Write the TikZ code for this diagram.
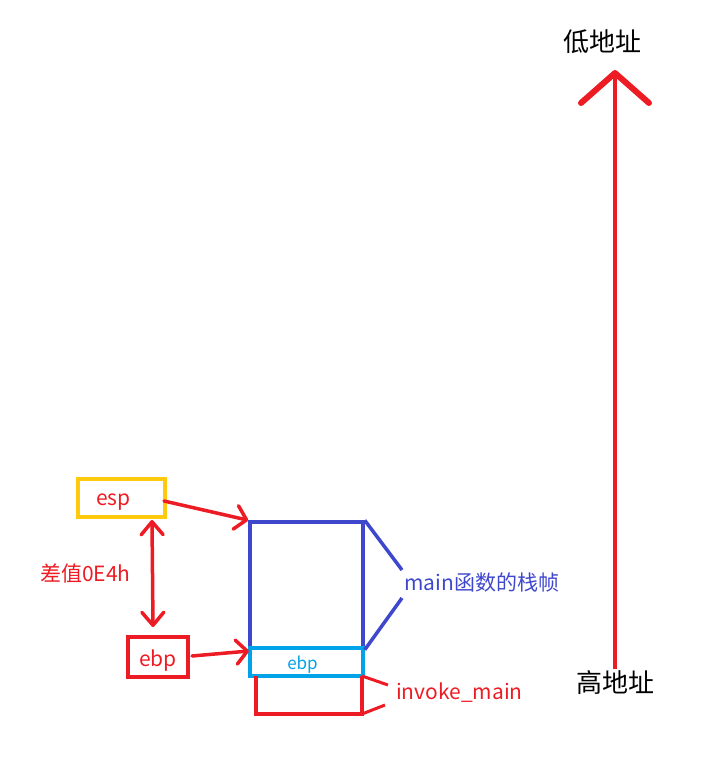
\documentclass[tikz,border=0pt]{standalone}
\usepackage{fontspec}
\setmainfont{Noto Sans CJK SC}
\usetikzlibrary{arrows.meta}
\definecolor{myred}{HTML}{ED1C24}
\definecolor{myyellow}{HTML}{FFC90E}
\definecolor{myblue}{HTML}{3F48CC}
\definecolor{mycyan}{HTML}{00A2E8}
\begin{document}
\begin{tikzpicture}[x=1pt,y=-1pt,
  box/.style={draw, line width=3.5pt, inner sep=0pt},
  lbl/.style={inner sep=0pt, anchor=west},
  chev/.style={-{Straight Barb[round, length=11pt, width=24pt, line width=3.5pt]}, line width=3.5pt, line cap=round, draw=myred},
  dchev/.style={{Straight Barb[round, length=13pt, width=22pt, line width=3.5pt]}-{Straight Barb[round, length=13pt, width=22pt, line width=3.5pt]}, line width=3.5pt, line cap=round, draw=myred},
  bigchev/.style={-{Straight Barb[round, length=30pt, width=68pt, line width=6pt]}, line width=4pt, draw=myred}]
\path[use as bounding box] (0,0) rectangle (726,769);

% left boxes
\node[box, draw=myyellow, minimum width=87pt, minimum height=38pt] (esp) at (121.5,498) {};
\node[inner sep=0pt, text=myred, font=\fontsize{21}{23}\selectfont] (esptxt) at ([xshift=-8pt,yshift=-4pt]esp.center) {esp};
\node[box, draw=myred, minimum width=60pt, minimum height=40pt] (ebpl) at (158,657) {};
\node[inner sep=0pt, text=myred, font=\fontsize{21}{23}\selectfont] (ebpltxt) at ([yshift=-4pt]ebpl.center) {ebp};

% stack frame boxes
\node[box, draw=myblue, minimum width=113pt, minimum height=126pt] (frame) at (306.5,585) {};
\node[box, draw=mycyan, minimum width=113pt, minimum height=28pt] (ebpc) at (306.5,662) {};
\node[inner sep=0pt, text=mycyan, font=\fontsize{17}{19}\selectfont] (ebpctxt) at ([xshift=-4pt,yshift=-3pt]ebpc.center) {ebp};
\coordinate (invtl) at (256,676);
\coordinate (invbl) at (256,714);
\coordinate (invbr) at (362,714);
\coordinate (invtr) at (362,676);
\draw[myred, line width=3.5pt, line join=miter] (invtl) -- (invbl) -- (invbr) -- (invtr);

% arrows from registers
\coordinate (espout) at (164,501);
\coordinate (ebpout) at (192,656);
\coordinate (ebpin) at (249,651);
\draw[chev] (espout) -- (frame.north west);
\draw[chev] (ebpout) -- (ebpin);

% double arrow
\coordinate (dtop) at (152,520);
\coordinate (dbot) at (153,627);
\draw[dchev] (dtop) -- (dbot);
\node[lbl, text=myred, font=\fontsize{21}{23}\selectfont] (diff) at (40,573) {差值0E4h};

% bracket for main frame
\coordinate (mb1) at (402,570);
\coordinate (mb2) at (402,598);
\draw[myblue, line width=3.5pt] (frame.north east) -- (mb1);
\draw[myblue, line width=3.5pt] (frame.south east) -- (mb2);
\node[lbl, text=myblue, font=\fontsize{21}{23}\selectfont] (mainlbl) at (404,583) {main函数的栈帧};

% bracket for invoke_main
\coordinate (ib1) at (388,685);
\coordinate (ib2) at (385,705);
\draw[myred, line width=3pt] (invtr) -- (ib1);
\draw[myred, line width=3pt] (invbr) -- (ib2);
\node[lbl, text=myred, font=\fontsize{21}{23}\selectfont] (invlbl) at (396,693) {invoke\_main};

% address arrow
\node[font=\fontsize{26}{28}\selectfont] (low) at (602,42) {低地址};
\node[font=\fontsize{26}{28}\selectfont] (high) at (615,683) {高地址};
\coordinate (abot) at (615,669);
\coordinate (atop) at (615,70);
\draw[bigchev] (abot) -- (atop);
\end{tikzpicture}
\end{document}
